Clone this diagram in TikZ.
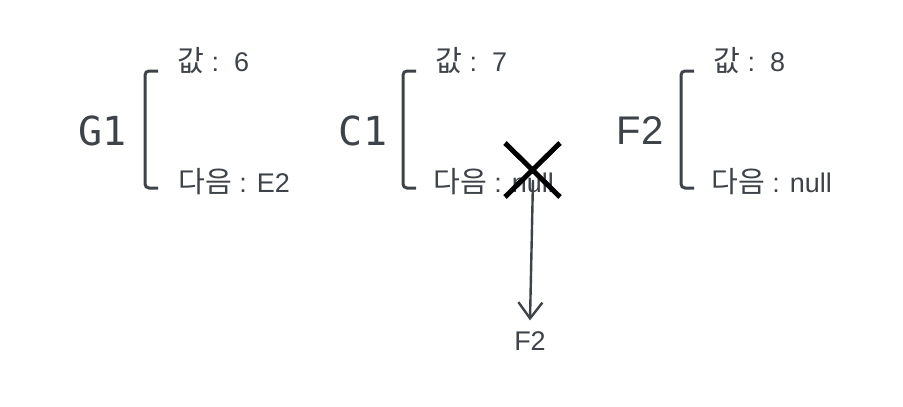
\documentclass[tikz,border=0pt]{standalone}
\usepackage{fontspec}
\setmainfont{Liberation Sans}
\newfontfamily\kr[Scale=1.08]{Noto Sans CJK KR}
\newfontfamily\monof{DejaVu Sans Mono}
\usetikzlibrary{arrows.meta}
\definecolor{ink}{HTML}{3E434A}
\begin{document}
\begin{tikzpicture}[x=1pt,y=-1pt,
  brk/.style={draw=ink,line width=3pt,rounded corners=4pt},
  fld/.style={anchor=west,inner sep=0pt,text=ink,font=\fontsize{27}{31}\selectfont},
  ttl/.style={inner sep=0pt,text=ink,font=\monof\fontsize{40}{46}\selectfont},
  ttls/.style={inner sep=0pt,text=ink,font=\fontsize{40}{46}\selectfont},
  cross/.style={draw=black,line width=5pt},
  arr/.style={draw=ink,line width=2.4pt,-{Straight Barb[length=16pt,width=24pt,line width=2.4pt]}}]
\useasboundingbox (0,0) rectangle (903,407);
% G1
\node[ttl] (g1) at (103,131) {G1};
\draw[brk] (158,71) -- (145,71) -- (145,188) -- (158,188);
\node[fld] (g1v) at (177,61) {{\kr 값} :\ \ 6};
\node[fld] (g1n) at (178,182) {{\kr 다음} : E2};
% C1
\node[ttl] (c1) at (363,131) {C1};
\draw[brk] (416,71) -- (403,71) -- (403,188) -- (416,188);
\node[fld] (c1v) at (435,61) {{\kr 값} :\ \ 7};
\node[fld] (c1n) at (433,182) {{\kr 다음} : null};
% F2
\node[ttls] (f2) at (640,131) {F2};
\draw[brk] (694,71) -- (681,71) -- (681,188) -- (694,188);
\node[fld] (f2v) at (713,61) {{\kr 값} :\ \ 8};
\node[fld] (f2n) at (711,182) {{\kr 다음} : null};
% arrow to F2 label
\node[inner sep=0pt,text=ink,font=\fontsize{27}{31}\selectfont] (f2lbl) at (530,341) {F2};
\coordinate (cs) at (533,180);
\draw[arr] (cs) -- ([yshift=11pt]f2lbl.north);
% cross
\coordinate (xa) at (505,143);
\coordinate (xb) at (560,197);
\coordinate (xc) at (560,143);
\coordinate (xd) at (505,197);
\draw[cross] (xa) -- (xb);
\draw[cross] (xc) -- (xd);
\end{tikzpicture}
\end{document}
